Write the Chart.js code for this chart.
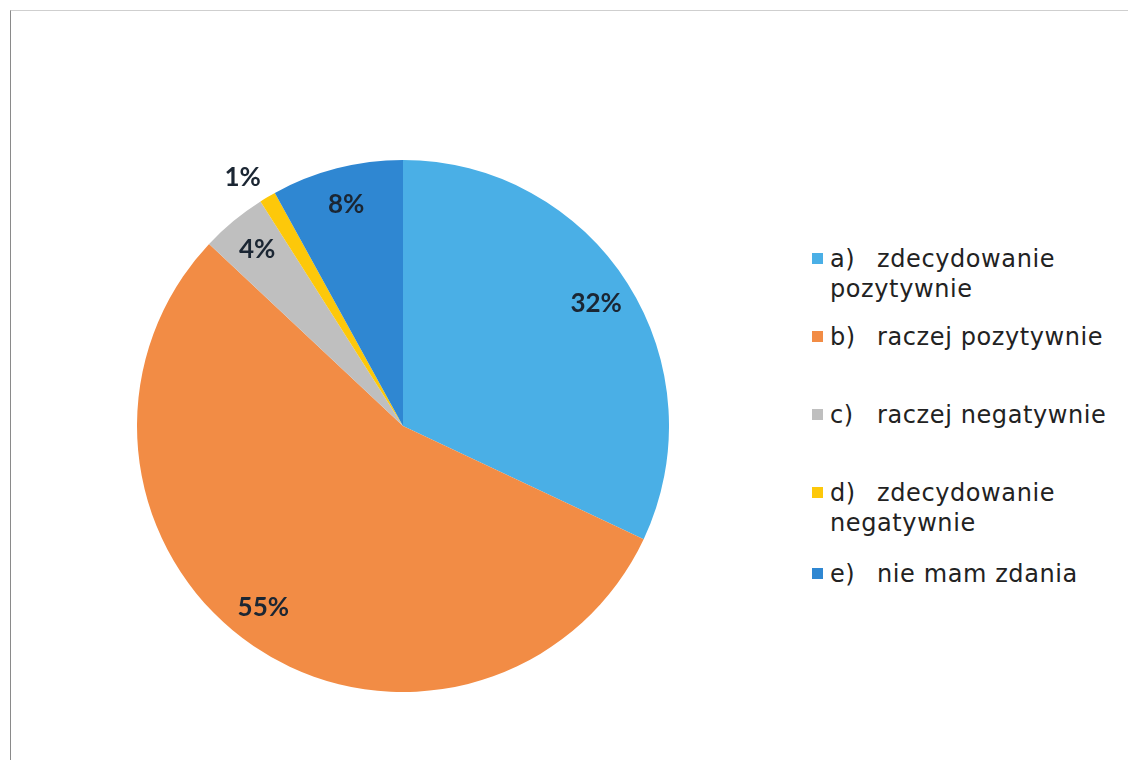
<!DOCTYPE html>
<html>
<head>
<meta charset="utf-8">
<script src="https://cdn.jsdelivr.net/npm/chart.js@4"></script>
<style>
  html, body { margin: 0; padding: 0; background: #fff; }
  body { width: 1128px; height: 760px; position: relative; overflow: hidden; }
  .frame { position: absolute; left: 10px; top: 10px; right: -5px; bottom: -5px;
    border-left: 1px solid #8a8a8a; border-top: 1px solid #cfcfcf; }
  #pieWrap { position: absolute; left: 137px; top: 160px; width: 532px; height: 532px; }
  .legend-item { position: absolute; left: 812px; width: 305px;
    font-family: 'DejaVu Sans', sans-serif; font-size: 24px; letter-spacing: 0.6px;
    line-height: 30px; color: #222; }
  .legend-item .box { position: absolute; left: 0; top: 9px; width: 11px; height: 11px; }
  .legend-item .txt { margin-left: 18px; }
  .legend-item .key { display: inline-block; width: 47px; }
</style>
</head>
<body>
<div class="frame"></div>
<div id="pieWrap"><canvas id="pie"></canvas></div>
<div id="legend"></div>
<script>
// answer options (key + text) and share of responses in %
const keys = ['a)', 'b)', 'c)', 'd)', 'e)'];
const categories = ['zdecydowanie pozytywnie', 'raczej pozytywnie', 'raczej negatywnie', 'zdecydowanie negatywnie', 'nie mam zdania'];
const values = [32, 55, 4, 1, 8];
const colors = ['#4aafe6', '#f28c45', '#bfbfbf', '#fdc80a', '#2f87d2'];

// legend rows (top of each item), picked to match the original spacing
const legendTops = [244, 322, 400, 478, 559];

const legend = document.getElementById('legend');
categories.forEach((c, i) => {
  const item = document.createElement('div');
  item.className = 'legend-item';
  item.style.top = legendTops[i] + 'px';
  item.innerHTML = '<span class="box" style="background:' + colors[i] + '"></span>' +
    '<div class="txt"><span class="key">' + keys[i] + '</span>' + c + '</div>';
  legend.appendChild(item);
});

// percent labels inside the slices, small ones pushed outside
const sliceLabels = {
  id: 'sliceLabels',
  afterDatasetsDraw(chart) {
    const ctx = chart.ctx;
    const meta = chart.getDatasetMeta(0);
    ctx.save();
    ctx.font = 'bold 26px Lato, "DejaVu Sans", sans-serif';
    ctx.fillStyle = '#1b2633';
    ctx.textAlign = 'center';
    ctx.textBaseline = 'middle';
    meta.data.forEach((arc, i) => {
      const mid = (arc.startAngle + arc.endAngle) / 2;
      const small = values[i] < 2;
      const r = arc.outerRadius * (small ? 1.11 : 0.86);
      // nudge the big slice label a bit, as in the original
      let a = mid;
      if (small) a -= 0.04;
      if (values[i] > 50) a += 0.06;
      ctx.fillText(values[i] + '%', arc.x + Math.cos(a) * r, arc.y + Math.sin(a) * r);
    });
    ctx.restore();
  }
};

new Chart(document.getElementById('pie'), {
  type: 'pie',
  data: {
    labels: categories,
    datasets: [{
      data: values,
      backgroundColor: colors,
      borderWidth: 0
    }]
  },
  options: {
    responsive: true,
    maintainAspectRatio: false,
    animation: false,
    layout: { padding: 0 },
    plugins: {
      legend: { display: false },
      tooltip: { enabled: false }
    }
  },
  plugins: [sliceLabels]
});
</script>
</body>
</html>
